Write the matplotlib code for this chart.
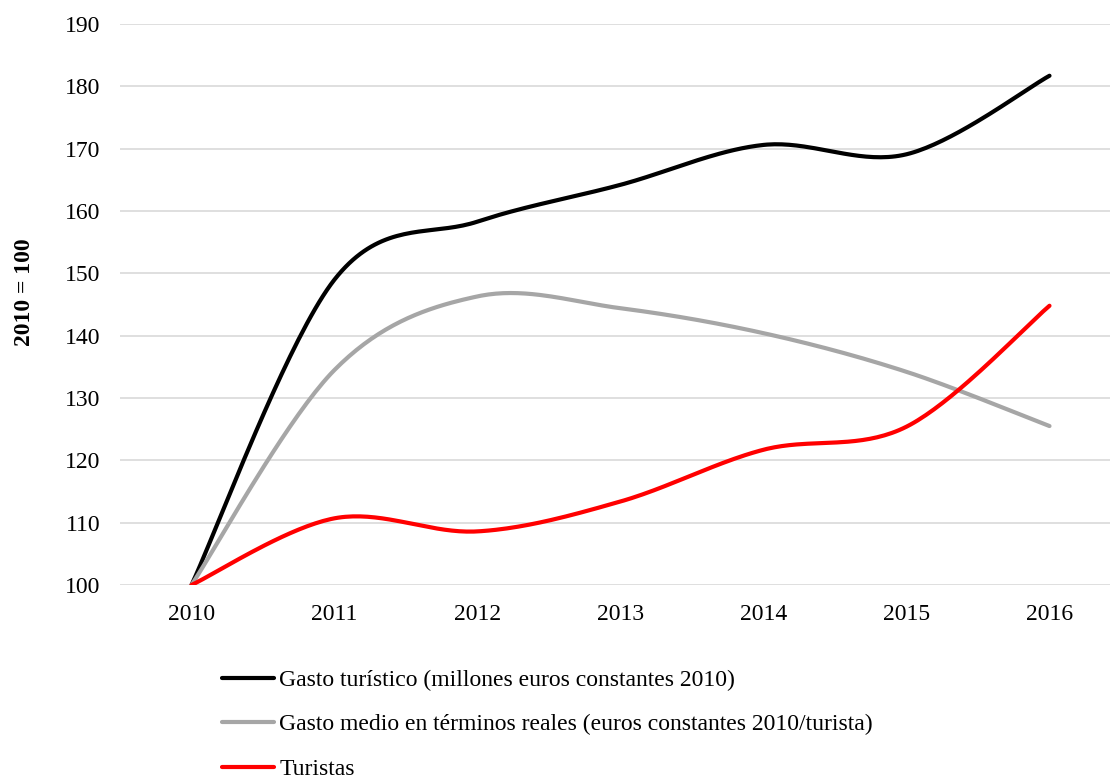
import numpy as np
import matplotlib
matplotlib.use("Agg")
import matplotlib.pyplot as plt

# Data (index 2010 = 100)
years = ["2010", "2011", "2012", "2013", "2014", "2015", "2016"]
gasto_turistico = [100, 149.0, 158.3, 164.2, 170.6, 169.1, 181.7]
gasto_medio = [100, 134.5, 146.3, 144.4, 140.4, 134.2, 125.5]
turistas = [100, 110.7, 108.6, 113.4, 121.7, 125.4, 144.8]

labels = ["Gasto turístico (millones euros constantes 2010)",
          "Gasto medio en términos reales (euros constantes 2010/turista)",
          "Turistas"]
colors = ["#000000", "#a6a6a6", "#ff0000"]

plt.rcParams["font.family"] = ["Liberation Serif", "DejaVu Serif"]


# Excel-like smoothed line (Catmull-Rom style bezier segments)
def smooth(xs, ys, n=40):
    xs = np.asarray(xs, float)
    ys = np.asarray(ys, float)
    px = np.concatenate([[xs[0]], xs, [xs[-1]]])
    py = np.concatenate([[ys[0]], ys, [ys[-1]]])
    out_x, out_y = [], []
    t = np.linspace(0, 1, n)
    for i in range(1, len(px) - 2):
        x0, x1 = px[i], px[i + 1]
        y0, y1 = py[i], py[i + 1]
        cx1 = x0 + (px[i + 1] - px[i - 1]) / 6
        cy1 = y0 + (py[i + 1] - py[i - 1]) / 6
        cx2 = x1 - (px[i + 2] - px[i]) / 6
        cy2 = y1 - (py[i + 2] - py[i]) / 6
        bx = (1 - t) ** 3 * x0 + 3 * (1 - t) ** 2 * t * cx1 + 3 * (1 - t) * t ** 2 * cx2 + t ** 3 * x1
        by = (1 - t) ** 3 * y0 + 3 * (1 - t) ** 2 * t * cy1 + 3 * (1 - t) * t ** 2 * cy2 + t ** 3 * y1
        out_x.extend(bx)
        out_y.extend(by)
    return np.array(out_x), np.array(out_y)


fig = plt.figure(figsize=(11.1, 7.79), dpi=100)
ax = fig.add_axes([120 / 1110, 1 - 585 / 779, 1 - 120 / 1110, (585 - 24) / 779])

x = np.arange(len(years))
for series, lab, col in zip([gasto_turistico, gasto_medio, turistas], labels, colors):
    sx, sy = smooth(x, series)
    ax.plot(sx, sy, color=col, lw=3, label=lab, solid_capstyle="round")

ax.set_ylim(100, 190)
ax.set_yticks(np.arange(100, 191, 10))
ax.set_xlim(-0.5, -0.5 + 990 / 143)
ax.set_xticks(x)
ax.set_xticklabels(years)
ax.grid(axis="y", color="#d9d9d9", lw=1.2)
ax.set_axisbelow(True)
for s in ax.spines.values():
    s.set_visible(False)
ax.tick_params(axis="both", length=0, labelsize=17)
ax.tick_params(axis="y", pad=14)
ax.tick_params(axis="x", pad=14)
ax.set_ylabel("2010 = 100", fontsize=17, fontweight="bold")
ax.yaxis.set_label_coords(-0.086, 0.522)

handles, labs = ax.get_legend_handles_labels()
fig.legend(handles, labs, loc="upper left", bbox_to_anchor=(213 / 1110, 1 - 660 / 779),
           frameon=False, fontsize=17, handlelength=2.2, handletextpad=0.2,
           labelspacing=0.97, borderaxespad=0)

fig.savefig("out.png", dpi=100)
